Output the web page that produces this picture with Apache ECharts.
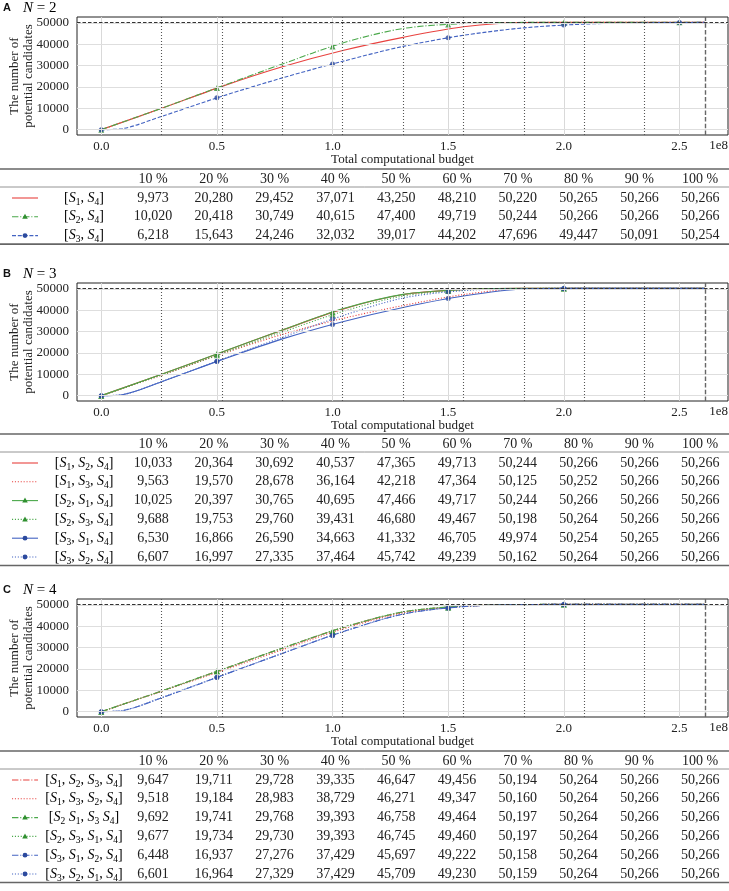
<!DOCTYPE html>
<html><head><meta charset="utf-8">
<script src="https://cdn.jsdelivr.net/npm/echarts@6/dist/echarts.min.js"></script>
<style>html,body{margin:0;padding:0;background:#fff}#c{width:729px;height:891px}</style>
</head><body><div id="c"></div><script>
// ---------------- data ----------------
const budget = 2.61e8;               // 100 % of the total computational budget
const percentLabels = ['10 %','20 %','30 %','40 %','50 %','60 %','70 %','80 %','90 %','100 %'];
const xTickValues = [0, 0.5e8, 1.0e8, 1.5e8, 2.0e8, 2.5e8];
const yTickValues = [0, 10000, 20000, 30000, 40000, 50000];
const candidateCap = 50266;
const markerX = [0, 0.5e8, 1.0e8, 1.5e8, 2.0e8, 2.5e8];

// Panel A, N = 2 (values at 10 % ... 100 % of budget)
const A_S1S4 = [9973, 20280, 29452, 37071, 43250, 48210, 50220, 50265, 50266, 50266];
const A_S2S4 = [10020, 20418, 30749, 40615, 47400, 49719, 50244, 50266, 50266, 50266];
const A_S3S4 = [6218, 15643, 24246, 32032, 39017, 44202, 47696, 49447, 50091, 50254];
const A_S2S4_markers = [0, 19500, 39000, 49300, 50250, 50266];
const A_S3S4_markers = [0, 15000, 30700, 43000, 49000, 50200];

// Panel B, N = 3
const B_S1S2S4 = [10033, 20364, 30692, 40537, 47365, 49713, 50244, 50266, 50266, 50266];
const B_S1S3S4 = [9563, 19570, 28678, 36164, 42218, 47364, 50125, 50252, 50266, 50266];
const B_S2S1S4 = [10025, 20397, 30765, 40695, 47466, 49717, 50244, 50266, 50266, 50266];
const B_S2S3S4 = [9688, 19753, 29760, 39431, 46680, 49467, 50198, 50264, 50266, 50266];
const B_S3S1S4 = [6530, 16866, 26590, 34663, 41332, 46705, 49974, 50254, 50265, 50266];
const B_S3S2S4 = [6607, 16997, 27335, 37464, 45742, 49239, 50162, 50264, 50266, 50266];
const B_S2S1S4_markers = [0, 19600, 39100, 49400, 50260];
const B_S2S3S4_markers = [0, 18950, 37900, 49000, 50250];
const B_S3S1S4_markers = [0, 16000, 33300, 45500, 50150];
const B_S3S2S4_markers = [0, 16100, 35900, 48700, 50250];

// Panel C, N = 4
const C_S1S2S3S4 = [9647, 19711, 29728, 39335, 46647, 49456, 50194, 50264, 50266, 50266];
const C_S1S3S2S4 = [9518, 19184, 28983, 38729, 46271, 49347, 50160, 50264, 50266, 50266];
const C_S2S1S3S4 = [9692, 19741, 29768, 39393, 46758, 49464, 50197, 50264, 50266, 50266];
const C_S2S3S1S4 = [9677, 19734, 29730, 39393, 46745, 49460, 50197, 50264, 50266, 50266];
const C_S3S1S2S4 = [6448, 16937, 27276, 37429, 45697, 49222, 50158, 50264, 50266, 50266];
const C_S3S2S1S4 = [6601, 16964, 27329, 37429, 45709, 49230, 50159, 50264, 50266, 50266];
const C_S2S1S3S4_markers = [0, 18900, 37700, 48800, 50230];
const C_S2S3S1S4_markers = [0, 18900, 37700, 48800, 50230];
const C_S3S1S2S4_markers = [0, 16000, 35700, 48600, 50220];
const C_S3S2S1S4_markers = [0, 16100, 35700, 48600, 50220];

// flat start of the S3-first curves (budget, candidates)
const blueStart = [0.09e8, 450];

// ---------------- styles ----------------
const SERIF = '"Liberation Serif","DejaVu Serif",serif';
const SANS = '"Liberation Sans","DejaVu Sans",sans-serif';
const TXT = '#222';
const COL = {
  red: {line: '#e8423f', mk: '#d33'},
  green: {line: '#4aa84a', mk: '#2f8f2f'},
  blue: {line: '#4363c2', mk: '#2c4a9e'}
};
const DASH = {
  solid: 'solid',
  dotted: [1.1, 1.8],
  dashed: [4, 1.8],
  dashdot: [6.4, 1.8, 1.1, 1.8]
};

const panels = [
  {letter: 'A', n: '2', gridTop: 17, tableTop: 169, series: [
    {lab: [1,4], values: A_S1S4, color: 'red', dash: 'solid'},
    {lab: [2,4], values: A_S2S4, color: 'green', dash: 'dashdot', symbol: 'triangle', markers: A_S2S4_markers},
    {lab: [3,4], values: A_S3S4, color: 'blue', dash: 'dashed', symbol: 'circle', markers: A_S3S4_markers, start: blueStart}
  ]},
  {letter: 'B', n: '3', gridTop: 283, tableTop: 434, series: [
    {lab: [1,2,4], values: B_S1S2S4, color: 'red', dash: 'solid'},
    {lab: [1,3,4], values: B_S1S3S4, color: 'red', dash: 'dotted'},
    {lab: [2,1,4], values: B_S2S1S4, color: 'green', dash: 'solid', symbol: 'triangle', markers: B_S2S1S4_markers},
    {lab: [2,3,4], values: B_S2S3S4, color: 'green', dash: 'dotted', symbol: 'triangle', markers: B_S2S3S4_markers},
    {lab: [3,1,4], values: B_S3S1S4, color: 'blue', dash: 'solid', symbol: 'circle', markers: B_S3S1S4_markers, start: blueStart},
    {lab: [3,2,4], values: B_S3S2S4, color: 'blue', dash: 'dotted', symbol: 'circle', markers: B_S3S2S4_markers, start: blueStart}
  ]},
  {letter: 'C', n: '4', gridTop: 599, tableTop: 751, series: [
    {lab: [1,2,3,4], values: C_S1S2S3S4, color: 'red', dash: 'dashdot'},
    {lab: [1,3,2,4], values: C_S1S3S2S4, color: 'red', dash: 'dotted'},
    {lab: [2,1,3,4], seps: [' ', ', ', ' '], values: C_S2S1S3S4, color: 'green', dash: 'dashdot', symbol: 'triangle', markers: C_S2S1S3S4_markers},
    {lab: [2,3,1,4], values: C_S2S3S1S4, color: 'green', dash: 'dotted', symbol: 'triangle', markers: C_S2S3S1S4_markers},
    {lab: [3,1,2,4], values: C_S3S1S2S4, color: 'blue', dash: 'dashdot', symbol: 'circle', markers: C_S3S1S2S4_markers, start: blueStart},
    {lab: [3,2,1,4], values: C_S3S2S1S4, color: 'blue', dash: 'dotted', symbol: 'circle', markers: C_S3S2S1S4_markers, start: blueStart}
  ]}
];

const GRID_LEFT = 69, GRID_RIGHT = 1, GRID_H = 118;
const X_MIN = -0.105e8, X_MAX = 2.71e8, Y_MIN = -2513, Y_MAX = 52779;
const COL_X = percentLabels.map((_, i) => 153 + 60.8 * i);
const LABEL_CX = 84;

const grids = [], xAxes = [], yAxes = [], series = [], graphics = [];
const fmtNum = v => v.toLocaleString('en-US');

const richStyles = {
  b: {fontFamily: SERIF, fontSize: 14, color: TXT, lineHeight: 18},
  i: {fontFamily: SERIF, fontSize: 14, fontStyle: 'italic', color: TXT, lineHeight: 18},
  s: {fontFamily: SERIF, fontSize: 9.5, color: TXT, lineHeight: 10, verticalAlign: 'bottom'}
};
function labelRich(lab, seps) {
  let s = '{b|[}';
  lab.forEach((k, j) => {
    s += '{i|S}{s|' + k + '}';
    if (j < lab.length - 1) s += '{b|' + (seps ? seps[j] : ', ') + '}';
  });
  return s + '{b|]}';
}

panels.forEach((p, pi) => {
  grids.push({left: GRID_LEFT, right: GRID_RIGHT, top: p.gridTop, height: GRID_H,
    show: true, borderColor: '#222', borderWidth: 1, backgroundColor: 'transparent', containLabel: false});
  xAxes.push({gridIndex: pi, type: 'value', min: X_MIN, max: X_MAX,
    axisLine: {show: false}, splitLine: {show: false},
    axisTick: {show: true, customValues: xTickValues, length: 3.5, lineStyle: {color: '#222', width: 0.8}},
    axisLabel: {customValues: xTickValues, formatter: v => (v / 1e8).toFixed(1), fontFamily: SERIF, fontSize: 13, color: TXT, margin: 5},
    name: 'Total computational budget', nameLocation: 'middle', nameGap: 18, nameMoveOverlap: false,
    nameTextStyle: {fontFamily: SERIF, fontSize: 13, color: TXT, verticalAlign: 'top'}
  });
  yAxes.push({gridIndex: pi, type: 'value', min: Y_MIN, max: Y_MAX,
    axisLine: {show: false}, splitLine: {show: false},
    axisTick: {show: true, customValues: yTickValues, length: 3.5, lineStyle: {color: '#222', width: 0.8}},
    axisLabel: {customValues: yTickValues, formatter: v => String(Math.round(v)), fontFamily: SERIF, fontSize: 13, color: TXT, margin: 8},
    name: 'The number of\npotential candidates', nameLocation: 'middle', nameGap: 42, nameRotate: 90, nameMoveOverlap: false,
    nameTextStyle: {fontFamily: SERIF, fontSize: 13, color: TXT, lineHeight: 13.5}
  });

  // reference lines & grid lines (helper series)
  const mlData = [];
  xTickValues.forEach(v => mlData.push({xAxis: v, lineStyle: {color: '#d9d9d9', width: 1, type: 'solid'}}));
  yTickValues.forEach(v => mlData.push({yAxis: v, lineStyle: {color: '#dedede', width: 1.2, type: 'solid'}}));
  series.push({type: 'line', xAxisIndex: pi, yAxisIndex: pi, data: [], silent: true, z: 1,
    markLine: {silent: true, symbol: ['none', 'none'], label: {show: false}, animation: false, data: mlData}});
  const refData = [];
  percentLabels.forEach((_, k) => {
    const last = k === percentLabels.length - 1;
    refData.push({xAxis: budget * (k + 1) / 10, lineStyle: last ? {color: '#666', width: 1.4, type: [4.5, 2.2]} : {color: '#555', width: 1.1, type: [1.1, 1.9]}});
  });
  refData.push({yAxis: candidateCap, lineStyle: {color: '#333', width: 1.2, type: [3.5, 2]}});
  series.push({type: 'line', xAxisIndex: pi, yAxisIndex: pi, data: [], silent: true, z: 5,
    markLine: {silent: true, symbol: ['none', 'none'], label: {show: false}, animation: false, data: refData}});

  p.series.forEach(s => {
    const pts = [[0, 0]];
    if (s.start) pts.push(s.start);
    s.values.forEach((v, i) => pts.push([budget * (i + 1) / 10, v]));
    series.push({type: 'line', xAxisIndex: pi, yAxisIndex: pi, data: pts, showSymbol: false, symbol: 'none',
      smooth: 0.3, z: 3,
      lineStyle: {color: COL[s.color].line, width: 1.1, type: DASH[s.dash]}});
    if (s.markers) {
      series.push({type: 'scatter', xAxisIndex: pi, yAxisIndex: pi, z: 4,
        data: s.markers.map((v, i) => [markerX[i], v]), symbol: s.symbol, symbolSize: s.symbol === 'triangle' ? 6 : 5,
        itemStyle: {color: COL[s.color].mk}});
    }
  });

  // panel title
  graphics.push({type: 'text', style: {text: p.letter, x: 3, y: p.gridTop - 9, font: 'bold 11px ' + SANS, fill: '#111', verticalAlign: 'middle'}});
  graphics.push({type: 'text', style: {text: '{i|N}{b| = ' + p.n + '}', x: 23, y: p.gridTop - 9, verticalAlign: 'middle',
    rich: {i: {fontFamily: SERIF, fontSize: 15, fontStyle: 'italic', color: TXT}, b: {fontFamily: SERIF, fontSize: 15, color: TXT}}}});
  // offset text
  graphics.push({type: 'text', style: {text: '1e8', x: 728, y: p.gridTop + GRID_H + 11, align: 'right', verticalAlign: 'middle', font: '13px ' + SERIF, fill: TXT}});

  // table
  const t = p.tableTop;
  graphics.push({type: 'line', shape: {x1: 0, y1: t, x2: 729, y2: t}, style: {stroke: '#666', lineWidth: 1.6}});
  graphics.push({type: 'line', shape: {x1: 0, y1: t + 18, x2: 729, y2: t + 18}, style: {stroke: '#888', lineWidth: 0.9}});
  percentLabels.forEach((h, i) => graphics.push({type: 'text', style: {text: h, x: COL_X[i], y: t + 10, align: 'center', verticalAlign: 'middle', font: '14px ' + SERIF, fill: TXT}}));
  const rowH = 18.8;
  p.series.forEach((s, r) => {
    const y = t + 29 + r * rowH;
    const c = COL[s.color];
    graphics.push({type: 'line', shape: {x1: 12, y1: y, x2: 38, y2: y},
      style: {stroke: c.line, lineWidth: 1.1, lineDash: s.dash === 'solid' ? null : DASH[s.dash]}});
    if (s.symbol === 'circle') graphics.push({type: 'circle', shape: {cx: 25, cy: y, r: 2.4}, style: {fill: c.mk}});
    if (s.symbol === 'triangle') graphics.push({type: 'polygon', shape: {points: [[25, y - 3], [22.2, y + 2], [27.8, y + 2]]}, style: {fill: c.mk}});
    graphics.push({type: 'text', style: {text: labelRich(s.lab, s.seps), x: LABEL_CX, y: y, align: 'center', verticalAlign: 'middle', rich: richStyles}});
    s.values.forEach((v, i) => graphics.push({type: 'text', style: {text: fmtNum(v), x: COL_X[i], y: y, align: 'center', verticalAlign: 'middle', font: '14px ' + SERIF, fill: TXT}}));
  });
  const bottom = t + 29 + (p.series.length - 1) * rowH + 8.5;
  graphics.push({type: 'line', shape: {x1: 0, y1: bottom, x2: 729, y2: bottom}, style: {stroke: '#666', lineWidth: 1.6}});
});

const chart = echarts.init(document.getElementById('c'), null, {renderer: 'canvas'});
chart.setOption({animation: false, backgroundColor: '#fff', grid: grids, xAxis: xAxes, yAxis: yAxes, series: series, graphic: graphics});
</script></body></html>
